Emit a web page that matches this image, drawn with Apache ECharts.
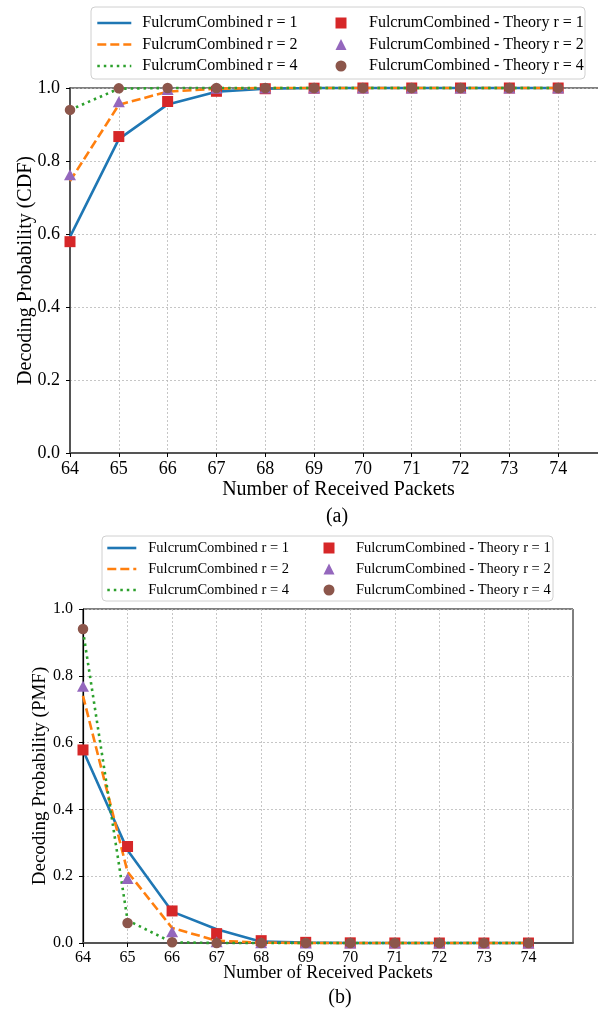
<!DOCTYPE html>
<html>
<head>
<meta charset="utf-8">
<script src="https://cdn.jsdelivr.net/npm/echarts@6/dist/echarts.min.js"></script>
<style>
  html, body { margin: 0; padding: 0; background: #fff; }
  #chart { width: 598px; height: 1013px; }
</style>
</head>
<body>
<div id="chart"></div>
<script>
// x positions (number of received packets)
var packets = [64, 65, 66, 67, 68, 69, 70, 71, 72, 73, 74];
var xTickLabels = ['64', '65', '66', '67', '68', '69', '70', '71', '72', '73', '74'];

// (a) CDF
var cdfSimR1 = [0.592, 0.86, 0.955, 0.99, 0.998, 1.0, 1.0, 1.0, 1.0, 1.0, 1.0];
var cdfSimR2 = [0.745, 0.954, 0.99, 0.998, 1.0, 1.0, 1.0, 1.0, 1.0, 1.0, 1.0];
var cdfSimR4 = [0.94, 0.998, 1.0, 1.0, 1.0, 1.0, 1.0, 1.0, 1.0, 1.0, 1.0];
var cdfTheoryR1 = [0.579, 0.867, 0.963, 0.991, 0.998, 0.9995, 1.0, 1.0, 1.0, 1.0, 1.0];
var cdfTheoryR2 = [0.762, 0.962, 0.996, 0.9995, 1.0, 1.0, 1.0, 1.0, 1.0, 1.0, 1.0];
var cdfTheoryR4 = [0.94, 0.999, 1.0, 1.0, 1.0, 1.0, 1.0, 1.0, 1.0, 1.0, 1.0];

// (b) PMF
var pmfSimR1 = [0.577, 0.278, 0.094, 0.041, 0.004, 0.001, 0.0, 0.0, 0.0, 0.0, 0.0];
var pmfSimR2 = [0.74, 0.213, 0.045, 0.007, 0.001, 0.0, 0.0, 0.0, 0.0, 0.0, 0.0];
var pmfSimR4 = [0.935, 0.068, 0.002, 0.0, 0.0, 0.0, 0.0, 0.0, 0.0, 0.0, 0.0];
var pmfTheoryR1 = [0.578, 0.289, 0.096, 0.028, 0.007, 0.002, 0.0005, 0.0001, 0.0, 0.0, 0.0];
var pmfTheoryR2 = [0.769, 0.193, 0.034, 0.004, 0.0005, 0.0, 0.0, 0.0, 0.0, 0.0, 0.0];
var pmfTheoryR4 = [0.94, 0.06, 0.002, 0.0001, 0.0, 0.0, 0.0, 0.0, 0.0, 0.0, 0.0];

var yTicks = ['0.0', '0.2', '0.4', '0.6', '0.8', '1.0'];

var simNames = ['FulcrumCombined r = 1', 'FulcrumCombined r = 2', 'FulcrumCombined r = 4'];
var theoryNames = ['FulcrumCombined - Theory r = 1', 'FulcrumCombined - Theory r = 2', 'FulcrumCombined - Theory r = 4'];

var FONT = '"Liberation Serif", "DejaVu Serif", serif';

function pairs(ys) {
  return packets.map(function (x, i) { return [x, ys[i]]; });
}

var lineStyles = [
  { color: '#1f77b4', width: 2.6, type: 'solid' },
  { color: '#ff7f0e', width: 2.6, type: [9, 4] },
  { color: '#2ca02c', width: 2.6, type: [2.5, 4] }
];
var markers = [
  { symbol: 'rect', color: '#d62728', size: 11 },
  { symbol: 'triangle', color: '#9467bd', size: [12, 11] },
  { symbol: 'circle', color: '#8c564b', size: 10.5 }
];

function lineSeries(idx, data, gi) {
  return {
    name: simNames[idx], type: 'line', xAxisIndex: gi, yAxisIndex: gi,
    data: pairs(data), symbol: 'none', clip: false, z: 2,
    lineStyle: lineStyles[idx], itemStyle: { color: lineStyles[idx].color }
  };
}
function markSeries(idx, data, gi) {
  return {
    name: theoryNames[idx], type: 'scatter', xAxisIndex: gi, yAxisIndex: gi,
    data: pairs(data), symbol: markers[idx].symbol, symbolSize: markers[idx].size,
    clip: false, z: 3, itemStyle: { color: markers[idx].color, opacity: 1 }
  };
}

function xAxisDef(gi, fs, nameFs, nameGap, spine) {
  return {
    type: 'value', gridIndex: gi, min: 64, max: 75, interval: 1,
    name: 'Number of Received Packets', nameLocation: 'middle', nameGap: nameGap, nameMoveOverlap: false,
    nameTextStyle: { fontFamily: FONT, fontSize: nameFs, color: '#000' },
    axisLine: { lineStyle: { color: spine, width: 2 } },
    axisTick: { show: true, length: 4, customValues: packets, lineStyle: { color: '#000' } },
    axisLabel: {
      fontFamily: FONT, fontSize: fs, color: '#000', margin: 7, customValues: packets,
      formatter: function (v) { var i = packets.indexOf(v); return i >= 0 ? xTickLabels[i] : ''; }
    },
    splitLine: { show: true, lineStyle: { color: '#b8b8b8', width: 0.8, type: [2, 2] } }
  };
}
function yAxisDef(gi, name, fs, nameFs, nameGap, spineColor, spineWidth) {
  return {
    type: 'value', gridIndex: gi, min: 0, max: 1, interval: 0.2,
    name: name, nameLocation: 'middle', nameGap: nameGap, nameMoveOverlap: false,
    nameTextStyle: { fontFamily: FONT, fontSize: nameFs, color: '#000' },
    axisLine: { show: true, lineStyle: { color: spineColor, width: spineWidth } },
    axisTick: { show: true, length: 4, lineStyle: { color: '#000' } },
    axisLabel: {
      fontFamily: FONT, fontSize: fs, color: '#000', margin: 10,
      formatter: function (v) { return yTicks[Math.round(v * 5)]; }
    },
    splitLine: { show: true, lineStyle: { color: '#b8b8b8', width: 0.8, type: [2, 2] } }
  };
}

function legendCol(names, topY, left, iconW, fs, lh, gap, padLeft, isLine) {
  var leg = {
    orient: 'vertical', left: left, top: topY, padding: 0,
    itemWidth: iconW, itemHeight: 11, itemGap: gap, data: names,
    formatter: function (n) { return '{t|' + n + '}'; },
    textStyle: {
      fontFamily: FONT, fontSize: fs, color: '#000',
      rich: { t: { fontFamily: FONT, fontSize: fs, color: '#000', lineHeight: lh, padding: [0, 0, 0, padLeft] } }
    }
  };
  if (isLine) {
    leg.itemStyle = { opacity: 0 };
    leg.lineStyle = { width: 2.6 };
  }
  return leg;
}

var chart = echarts.init(document.getElementById('chart'), null, { renderer: 'canvas' });

var series = [];
[cdfSimR1, cdfSimR2, cdfSimR4].forEach(function (d, i) { series.push(lineSeries(i, d, 0)); });
[pmfSimR1, pmfSimR2, pmfSimR4].forEach(function (d, i) { series.push(lineSeries(i, d, 1)); });
[cdfTheoryR1, cdfTheoryR2, cdfTheoryR4].forEach(function (d, i) { series.push(markSeries(i, d, 0)); });
[pmfTheoryR1, pmfTheoryR2, pmfTheoryR4].forEach(function (d, i) { series.push(markSeries(i, d, 1)); });

var option = {
  backgroundColor: '#fff',
  animation: false,
  grid: [
    { left: 70, top: 88, width: 537, height: 365, outerBoundsMode: 'none', show: true, borderColor: '#000', borderWidth: 1, backgroundColor: 'transparent' },
    { left: 83, top: 609, width: 490, height: 334, outerBoundsMode: 'none', show: true, borderColor: '#000', borderWidth: 1, backgroundColor: 'transparent' }
  ],
  xAxis: [xAxisDef(0, 18, 20, 27, '#555'), xAxisDef(1, 16, 18, 21, '#555')],
  yAxis: [
    yAxisDef(0, 'Decoding Probability (CDF)', 18, 20, 34, '#555', 2),
    yAxisDef(1, 'Decoding Probability (PMF)', 16, 19, 33, '#000', 1.2)
  ],
  legend: [
    legendCol(simNames, 15, 96, 34, 16, 16, 5.5, 6, true),
    legendCol(theoryNames, 15, 335.5, 11, 16, 16, 5.5, 17.5, false),
    legendCol(simNames, 540.5, 106, 29, 14.5, 15, 6, 7, true),
    legendCol(theoryNames, 540.5, 323.5, 11, 14.5, 15, 6, 16.5, false)
  ],
  graphic: [
    { type: 'rect', z: 0, shape: { x: 91, y: 7, width: 494, height: 72, r: 4 },
      style: { fill: '#fff', stroke: '#d0d0d0', lineWidth: 1 } },
    { type: 'rect', z: 0, shape: { x: 102, y: 536, width: 451, height: 65, r: 4 },
      style: { fill: '#fff', stroke: '#d0d0d0', lineWidth: 1 } },
    { type: 'text', x: 337, y: 517, style: { text: '(a)', font: '20px ' + FONT, fill: '#000', align: 'center', verticalAlign: 'middle' } },
    { type: 'text', x: 340, y: 998, style: { text: '(b)', font: '20px ' + FONT, fill: '#000', align: 'center', verticalAlign: 'middle' } }
  ],
  series: series
};
chart.setOption(option);
</script>
</body>
</html>
